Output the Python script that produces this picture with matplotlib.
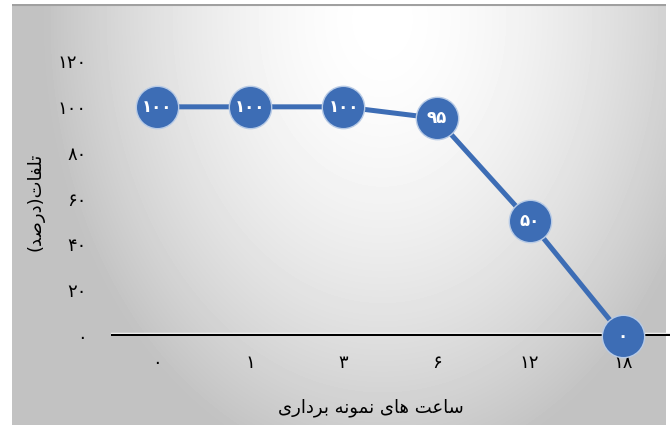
import matplotlib
matplotlib.use("Agg")
import matplotlib.pyplot as plt
import matplotlib.patheffects as pe
import numpy as np

# chart data
hours = [0, 1, 3, 6, 12, 18]
loss_pct = [100, 100, 100, 95, 50, 0]
y_ticks = [0, 20, 40, 60, 80, 100, 120]

FA_DIGITS = str.maketrans("0123456789", "۰۱۲۳۴۵۶۷۸۹")

def fa_num(v):
    return str(v).translate(FA_DIGITS)

# shaped persian labels (presentation forms, logical order)
x_label = ("\uFEB3\uFE8E\uFECB\uFE96 \uFEEB\uFE8E\uFBFC "
           "\uFEE7\uFEE4\uFEEE\uFEE7\uFEEA \uFE91\uFEAE\uFEA9\uFE8D\uFEAD\uFBFC")
y_label = "\uFE97\uFEE0\uFED4\uFE8E\uFE95(\uFEA9\uFEAD\uFEBB\uFEAA)"

def visual(s):
    # reverse for right-to-left display, mirror the brackets
    out = "".join(reversed(s))
    return out.translate(str.maketrans("()", ")("))

blue = "#3D6DB5"

fig = plt.figure(figsize=(6.72, 4.25), dpi=100)
fig.patch.set_facecolor("white")

# gradient panel behind the chart
bg = fig.add_axes([12 / 672, 0, (666 - 12) / 672, (425 - 4) / 425])
bg.set_axis_off()
yy, xx = np.mgrid[0:421, 0:654]
r = np.sqrt(((xx - 370) / 340.0) ** 2 + ((yy - 15) / 460.0) ** 2)
shade = 1.0 - 0.24 * np.clip(r, 0, 1.0) ** 1.7
bg.imshow(shade, cmap="gray", vmin=0, vmax=1, aspect="auto",
          extent=[0, 1, 0, 1], origin="upper")
bg.set_xlim(0, 1)
bg.set_ylim(0, 1)
bg.plot([0, 1], [0.997, 0.997], color="#a0a0a0", lw=1.5)

ax = fig.add_axes([110.5 / 672, 89 / 425, 559 / 672, 275 / 425])
ax.patch.set_alpha(0)
x = np.arange(len(hours))
ax.set_xlim(-0.5, len(hours) - 0.5)
ax.set_ylim(0, 120)

ax.axhline(0, color="black", lw=3.0, zorder=2,
           path_effects=[pe.Stroke(linewidth=4.6, foreground="white"), pe.Normal()])
ax.plot(x, loss_pct, color=blue, lw=3.6, zorder=3, clip_on=False,
        marker="o", markersize=30.5, markerfacecolor=blue,
        markeredgecolor="#b8cbe6", markeredgewidth=1.0)

for xi, v in zip(x, loss_pct):
    ax.text(xi, v, fa_num(v), ha="center", va="center", color="white",
            fontsize=12, fontweight="bold", zorder=4)

for s in ax.spines.values():
    s.set_visible(False)
ax.set_xticks(x)
ax.set_xticklabels([fa_num(h) for h in hours], fontsize=13)
ax.set_yticks(y_ticks)
ax.set_yticklabels([fa_num(t) for t in y_ticks], fontsize=13)
ax.tick_params(axis="both", length=0)
ax.tick_params(axis="x", pad=13)
ax.tick_params(axis="y", pad=17)

fig.text(371 / 672, 1 - 408 / 425, visual(x_label), ha="center", va="center",
         fontsize=13)
fig.text(35 / 672, 1 - 202 / 425, visual(y_label), ha="center", va="center",
         fontsize=13, rotation=90)

fig.savefig("out.png", dpi=100)
